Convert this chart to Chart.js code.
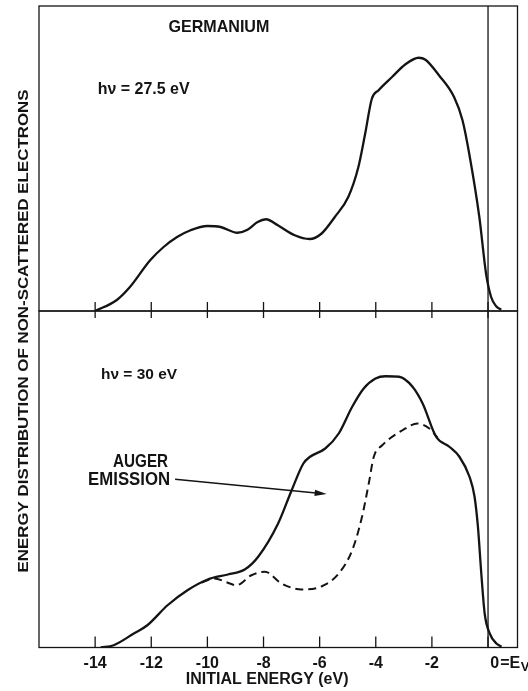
<!DOCTYPE html>
<html>
<head>
<meta charset="utf-8">
<script src="https://cdn.jsdelivr.net/npm/chart.js@4.4.1/dist/chart.umd.min.js"></script>
<style>
  html, body { margin: 0; padding: 0; background: #fff; }
  #wrap { position: relative; width: 528px; height: 691px; }
  canvas { position: absolute; left: 0; top: 0; }
</style>
</head>
<body>
<div id="wrap">
  <canvas id="topChart" width="528" height="691"></canvas>
  <canvas id="bottomChart" width="528" height="691"></canvas>
</div>
<script>
// initial energy (eV) and intensity (arb. units)
const topEnergy = [-14.0, -13.24, -12.76, -12.04, -11.56, -11.08, -10.6, -10.0, -9.53, -8.93, -8.57, -8.21, -7.91, -7.49, -6.89, -6.36, -5.94, -5.46, -4.98, -4.62, -4.38, -4.14, -3.90, -3.42, -2.94, -2.47, -2.23, -1.75, -1.21, -0.91, -0.67, -0.31, -0.07, 0.11, 0.29, 0.47];
const topCounts = [0, 0.43, 0.96, 2.03, 2.56, 2.96, 3.23, 3.40, 3.36, 3.13, 3.25, 3.56, 3.67, 3.43, 3.03, 2.88, 3.09, 3.76, 4.56, 5.76, 7.08, 8.49, 8.83, 9.36, 9.87, 10.13, 10.05, 9.43, 8.56, 7.63, 6.29, 3.76, 1.49, 0.56, 0.19, 0.05];

const botEnergy = [-13.8, -13.34, -12.62, -12.14, -11.42, -10.71, -9.99, -9.27, -8.67, -8.19, -7.48, -7.0, -6.58, -6.34, -5.80, -5.32, -4.84, -4.43, -4.01, -3.65, -3.17, -2.69, -2.33, -1.85, -1.38, -1.02, -0.66, -0.48, -0.36, -0.24, -0.12, 0.06, 0.30, 0.48];
const botCounts = [0, 0.09, 0.56, 0.89, 1.69, 2.29, 2.72, 2.92, 3.12, 3.63, 4.96, 6.28, 7.36, 7.63, 7.96, 8.56, 9.63, 10.36, 10.76, 10.85, 10.83, 10.43, 9.76, 8.43, 8.03, 7.63, 6.83, 6.03, 4.83, 2.96, 1.36, 0.56, 0.16, 0.03];

// without the Auger emission (dashed)
const augerEnergy = [-10.2, -9.75, -9.27, -8.97, -8.43, -7.95, -7.36, -6.64, -5.92, -5.32, -4.84, -4.49, -4.25, -4.07, -3.77, -3.05, -2.51, -2.09, -1.80];
const augerCounts = [2.60, 2.76, 2.59, 2.49, 2.89, 3.03, 2.56, 2.32, 2.45, 2.96, 3.89, 5.23, 6.56, 7.63, 8.09, 8.69, 8.96, 8.76, 8.40];

const tickValues = [-14, -12, -10, -8, -6, -4, -2, 0];
const tickLabels = ['-14', '-12', '-10', '-8', '-6', '-4', '-2', '   0'];

const ink = '#141414';
const fontName = '"Liberation Sans", Arial, sans-serif';
Chart.defaults.font.family = fontName;
Chart.defaults.color = ink;

const toPoints = (xs, ys) => xs.map((x, i) => ({ x: x, y: ys[i] }));

// text squeezed/stretched to the width it has in the figure
function fitText(ctx, text, x, y, capH, width, align) {
  ctx.save();
  ctx.font = 'bold ' + (capH / 0.72).toFixed(1) + 'px ' + fontName;
  const w = ctx.measureText(text).width;
  ctx.translate(x, y + capH / 2);
  ctx.scale(width / w, 1);
  ctx.textAlign = align;
  ctx.textBaseline = 'alphabetic';
  ctx.fillStyle = ink;
  ctx.fillText(text, 0, 0);
  ctx.restore();
}

function frame(ctx, chart) {
  const a = chart.chartArea;
  const x0 = chart.scales.x.getPixelForValue(0);
  ctx.save();
  ctx.strokeStyle = ink;
  ctx.lineWidth = 1.3;
  ctx.strokeRect(a.left, a.top, a.right - a.left, a.bottom - a.top);
  ctx.beginPath();
  ctx.moveTo(x0, a.top);
  ctx.lineTo(x0, a.bottom);
  ctx.stroke();
  ctx.restore();
}

function ticks(ctx, chart, up, down) {
  const a = chart.chartArea;
  ctx.save();
  ctx.strokeStyle = ink;
  ctx.lineWidth = 1.3;
  tickValues.forEach(v => {
    const px = chart.scales.x.getPixelForValue(v);
    ctx.beginPath();
    ctx.moveTo(px, a.bottom - up);
    ctx.lineTo(px, a.bottom + down);
    ctx.stroke();
  });
  ctx.restore();
}

const topDeco = {
  id: 'topDeco',
  afterDraw(chart) {
    const ctx = chart.ctx, xs = chart.scales.x, ys = chart.scales.y;
    frame(ctx, chart);
    ticks(ctx, chart, 9, 7);
    fitText(ctx, 'GERMANIUM', xs.getPixelForValue(-9.59), ys.getPixelForValue(11.38), 11.7, 101, 'center');
    fitText(ctx, 'h\u03bd = 27.5 eV', xs.getPixelForValue(-13.91), ys.getPixelForValue(8.93), 12.3, 92, 'left');
  }
};

const bottomDeco = {
  id: 'bottomDeco',
  afterDraw(chart) {
    const ctx = chart.ctx, xs = chart.scales.x, ys = chart.scales.y;
    const a = chart.chartArea;
    frame(ctx, chart);
    ticks(ctx, chart, 11, 0);

    // "=E" with subscript V after the 0 tick label
    const item = xs.getLabelItems()[tickValues.indexOf(0)];
    ctx.save();
    ctx.font = 'bold 16px ' + fontName;
    ctx.fillStyle = ink;
    ctx.textBaseline = item.options.textBaseline;
    const lx = item.options.translation[0] + ctx.measureText(tickLabels[7]).width / 2 + 1;
    const ly = item.options.translation[1] + item.textOffset;
    ctx.textAlign = 'left';
    ctx.fillText('=E', lx, ly);
    const ew = ctx.measureText('=E').width;
    ctx.font = 'bold 13px ' + fontName;
    ctx.fillText('V', lx + ew + 0.5, ly + 4);
    ctx.restore();

    fitText(ctx, 'h\u03bd = 30 eV', xs.getPixelForValue(-13.79), ys.getPixelForValue(10.96), 11, 76, 'left');
    fitText(ctx, 'AUGER', xs.getPixelForValue(-12.38), ys.getPixelForValue(7.5), 13, 55, 'center');
    fitText(ctx, 'EMISSION', xs.getPixelForValue(-12.79), ys.getPixelForValue(6.76), 13, 82, 'center');

    // arrow to the Auger part
    const sx = xs.getPixelForValue(-11.15), sy = ys.getPixelForValue(6.73);
    const ex = xs.getPixelForValue(-5.75), ey = ys.getPixelForValue(6.14);
    const ang = Math.atan2(ey - sy, ex - sx);
    ctx.save();
    ctx.strokeStyle = ink;
    ctx.fillStyle = ink;
    ctx.lineWidth = 1.4;
    ctx.beginPath();
    ctx.moveTo(sx, sy);
    ctx.lineTo(ex - 8 * Math.cos(ang), ey - 8 * Math.sin(ang));
    ctx.stroke();
    ctx.translate(ex, ey);
    ctx.rotate(ang);
    ctx.beginPath();
    ctx.moveTo(0, 0);
    ctx.lineTo(-12, -3.2);
    ctx.lineTo(-12, 3.2);
    ctx.closePath();
    ctx.fill();
    ctx.restore();

    // shared y-axis title over both panels
    ctx.save();
    ctx.translate(a.left - 16, 331);
    ctx.rotate(-Math.PI / 2);
    fitText(ctx, 'ENERGY DISTRIBUTION OF NON-SCATTERED ELECTRONS', 0, 0, 10.5, 483, 'center');
    ctx.restore();
  }
};

const curve = {
  borderColor: ink,
  borderWidth: 2.3,
  pointRadius: 0,
  fill: false,
  cubicInterpolationMode: 'monotone'
};

const xRange = { type: 'linear', min: -16, max: 1.05 };

new Chart(document.getElementById('topChart'), {
  type: 'line',
  data: {
    datasets: [Object.assign({ label: 'h\u03bd = 27.5 eV', data: toPoints(topEnergy, topCounts) }, curve)]
  },
  options: {
    responsive: false,
    animation: false,
    devicePixelRatio: 1,
    layout: { padding: { left: 39, right: 10.5, top: 6, bottom: 380 } },
    plugins: { legend: { display: false }, tooltip: { enabled: false } },
    scales: {
      x: Object.assign({ display: false }, xRange),
      y: { min: 0, max: 12.2, display: false }
    }
  },
  plugins: [topDeco]
});

new Chart(document.getElementById('bottomChart'), {
  type: 'line',
  data: {
    datasets: [
      Object.assign({ label: 'h\u03bd = 30 eV', data: toPoints(botEnergy, botCounts) }, curve),
      Object.assign({ label: 'without Auger', data: toPoints(augerEnergy, augerCounts) }, curve, { borderWidth: 2, borderDash: [8, 5] })
    ]
  },
  options: {
    responsive: false,
    animation: false,
    devicePixelRatio: 1,
    layout: { padding: { left: 39, right: 10.5, top: 311, bottom: 0 } },
    plugins: { legend: { display: false }, tooltip: { enabled: false } },
    scales: {
      x: Object.assign({
        position: 'bottom',
        afterBuildTicks: s => { s.ticks = tickValues.map(v => ({ value: v })); },
        afterFit: s => { s.height = 43.5; },
        grid: { display: false, drawTicks: false },
        border: { display: false },
        ticks: {
          color: ink,
          padding: 6,
          maxRotation: 0,
          autoSkip: false,
          font: { size: 16, weight: 'bold' },
          callback: (v, i) => tickLabels[i]
        },
        title: {
          display: true,
          text: 'INITIAL ENERGY (eV)     ',
          color: ink,
          font: { size: 16, weight: 'bold' },
          padding: { top: 2, bottom: 2 }
        }
      }, xRange),
      y: { min: 0, max: 13.46, display: false }
    }
  },
  plugins: [bottomDeco]
});
</script>
</body>
</html>
